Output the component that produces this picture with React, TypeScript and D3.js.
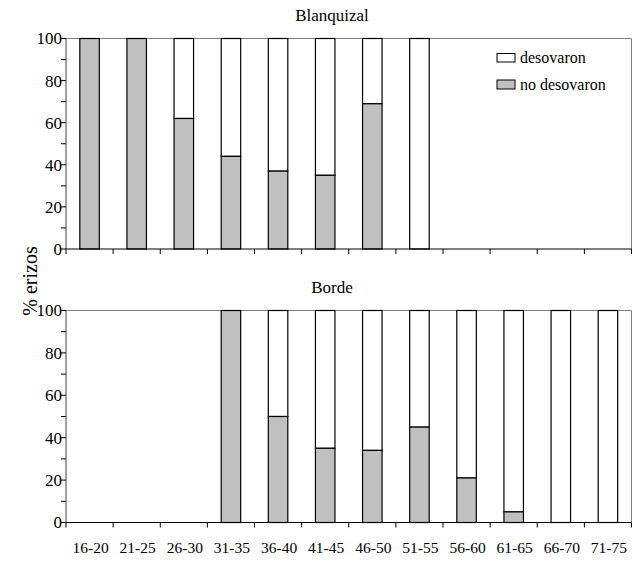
import * as React from 'react';
import { scaleBand, scaleLinear, range } from 'd3';

const categories = ['16-20', '21-25', '26-30', '31-35', '36-40', '41-45', '46-50', '51-55', '56-60', '61-65', '66-70', '71-75'];

// % "no desovaron" per class; null = no data (no bar)
const blanquizalNo: (number | null)[] = [100, 100, 62, 44, 37, 35, 69, 0, null, null, null, null];
const bordeNo: (number | null)[] = [null, null, null, 100, 50, 35, 34, 45, 21, 5, 0, 0];

const yTicks = [0, 20, 40, 60, 80, 100];
const yMinor = range(0, 101, 10);

const W = 632;
const H = 563;
const left = 66;
const right = 631.5;
const font = 'Liberation Serif';
const GREY = '#c0c0c0';

interface PanelProps {
  title: string;
  values: (number | null)[];
  top: number;
  bottom: number;
  legend?: boolean;
  labels?: boolean;
}

function Panel({ title, values, top, bottom, legend, labels }: PanelProps) {
  const x = scaleBand<string>().domain(categories).range([left, right]).paddingInner(0).paddingOuter(0);
  const y = scaleLinear().domain([0, 100]).range([bottom, top]);
  const bw = 19.5;
  const bounds = range(categories.length + 1).map(i => left + i * x.bandwidth());

  return (
    <g>
      <text x={332} y={top - 17.5} textAnchor="middle" fontSize={17} fontFamily={font}>{title}</text>
      {/* plot border */}
      <path d={`M${left},${top}H${right}V${bottom}`} fill="none" stroke="#808080" strokeWidth={1} />
      {values.map((v, i) => {
        if (v === null) return null;
        const cx = (x(categories[i]) ?? 0) + x.bandwidth() / 2;
        const x0 = cx - bw / 2;
        return (
          <g key={i}>
            <rect x={x0} y={y(100)} width={bw} height={y(v) - y(100)} fill="#fff" stroke="#000" strokeWidth={1.2} />
            {v > 0 && (
              <rect x={x0} y={y(v)} width={bw} height={y(0) - y(v)} fill={GREY} stroke="#000" strokeWidth={1.2} />
            )}
          </g>
        );
      })}
      {/* y axis */}
      <line x1={left} x2={left} y1={top} y2={bottom} stroke="#404040" strokeWidth={1} />
      {yMinor.map(t => (
        <line key={t} x1={left - 5} x2={left} y1={y(t)} y2={y(t)} stroke="#000" strokeWidth={1} />
      ))}
      {yTicks.map(t => (
        <text key={t} x={left - 4} y={y(t)} dy="0.35em" textAnchor="end" fontSize={17} fontFamily={font}>{t}</text>
      ))}
      {/* x axis */}
      <line x1={left} x2={right} y1={bottom} y2={bottom} stroke="#000" strokeWidth={1} />
      {bounds.map((b, i) => (
        <line key={i} x1={b} x2={b} y1={bottom} y2={bottom + 5} stroke="#000" strokeWidth={1} />
      ))}
      {labels && categories.map(c => (
        <text key={c} x={(x(c) ?? 0) + x.bandwidth() / 2 + 1} y={bottom + 30.5} textAnchor="middle" fontSize={15.5} fontFamily={font}>{c}</text>
      ))}
      {legend && (
        <g fontFamily={font} fontSize={16}>
          <rect x={497} y={53.5} width={18} height={8.5} fill="#fff" stroke="#000" strokeWidth={1} />
          <text x={520} y={63}>desovaron</text>
          <rect x={497} y={80} width={18} height={9} fill={GREY} stroke="#000" strokeWidth={1} />
          <text x={520} y={90}>no desovaron</text>
        </g>
      )}
    </g>
  );
}

export default function App() {
  return (
    <svg width={W} height={H} style={{ position: 'absolute', left: 0, top: 0, display: 'block' }}>
      <rect width={W} height={H} fill="#fff" />
      <Panel title="Blanquizal" values={blanquizalNo} top={38.5} bottom={249} legend />
      <Panel title="Borde" values={bordeNo} top={310.5} bottom={522.5} labels />
      <text transform="translate(37,281) rotate(-90)" textAnchor="middle" fontSize={20} fontFamily={font}>% erizos</text>
    </svg>
  );
}
